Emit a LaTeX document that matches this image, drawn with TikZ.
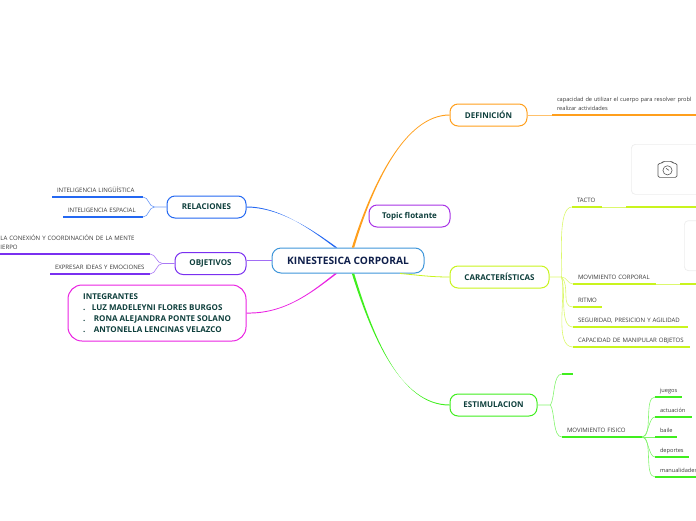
\documentclass[tikz,border=0pt]{standalone}
\usepackage{xcolor}
\usepackage{fontspec}
\setmainfont{Open Sans}
\usepackage{tikz}
\usetikzlibrary{positioning}

\definecolor{rootc}{HTML}{3F96DA}
\definecolor{relc}{HTML}{2468F2}
\definecolor{objc}{HTML}{7A30F0}
\definecolor{intc}{HTML}{EA22E2}
\definecolor{defc}{HTML}{FF9F1C}
\definecolor{flotc}{HTML}{A833E6}
\definecolor{carc}{HTML}{C9F41E}
\definecolor{estc}{HTML}{40EE1E}
\definecolor{inkc}{HTML}{0E3F3C}
\definecolor{rootink}{HTML}{0F1F4B}
\definecolor{leafink}{HTML}{3A3A3A}

% tapered branch out of the central topic
\newcommand{\branch}[5]{\fill[#1] ([xshift=-1.2pt]#2) .. controls ([xshift=-.7pt]#3) and ([yshift=.4pt]#4) .. ([yshift=.5pt]#5) -- ([yshift=-.5pt]#5) .. controls ([yshift=-.4pt]#4) and ([xshift=.7pt]#3) .. ([xshift=1.2pt]#2) -- cycle;}

\begin{document}
\begin{tikzpicture}[
  x=1pt, y=-1pt,
  topic/.style={draw=#1, line width=1pt, fill=white, rounded corners=8pt, minimum height=22pt, inner sep=0pt,
    font=\fontsize{8}{9}\selectfont\bfseries, text=inkc},
  leaf/.style={inner xsep=5pt, inner ysep=3.5pt, outer sep=0pt, text height=5pt, text depth=1.5pt, align=left,
    font=\fontsize{6.05}{8.6}\selectfont, text=leafink,
    append after command={(\tikzlastnode.south west) edge[draw=#1, line width=1.2pt] (\tikzlastnode.south east)}},
  lowleaf/.style={font=\fontsize{5.65}{8.6}\selectfont},
  link/.style={draw=#1!65, line width=.6pt},
  imgbox/.style={draw=black!7, line width=.7pt, fill=white, rounded corners=4pt, minimum height=50pt, minimum width=90pt}
]
\useasboundingbox (0,0) rectangle (696,520);
\clip (0,0) rectangle (696,520);

\node[topic=rootc, minimum width=152pt, minimum height=25pt, rounded corners=9pt, font=\fontsize{10.2}{11}\selectfont\bfseries, text=rootink] (root) at (348,260.5) {KINESTESICA CORPORAL};

% right side
\node[topic=defc, minimum width=77pt, right=25pt of root, yshift=145.5pt] (def) {DEFINICIÓN};
\node[topic=carc, minimum width=99pt, right=25pt of root, yshift=-16.5pt] (car) {CARACTERÍSTICAS};
\node[topic=estc, minimum width=87pt, right=25pt of root, yshift=-144.5pt] (est) {ESTIMULACION};

% left side
\node[topic=relc, minimum width=79pt, left=25pt of root, yshift=53.5pt] (rel) {RELACIONES};
\node[topic=objc, minimum width=71pt, left=25pt of root, yshift=-3pt] (obj) {OBJETIVOS};
\node[topic=intc, minimum width=178pt, minimum height=56pt, rounded corners=14pt, left=25pt of root, yshift=-52.5pt, align=left,
      font=\fontsize{8}{11}\selectfont\bfseries] (int) {INTEGRANTES\\.\hspace{6.5pt}LUZ MADELEYNI FLORES BURGOS\\.\hspace{8.5pt}RONA ALEJANDRA PONTE SOLANO\\.\hspace{8.5pt}ANTONELLA LENCINAS VELAZCO};

% branches
\coordinate (defroot) at ([xshift=5pt]root.north);
\coordinate (relroot) at ([xshift=-12pt]root.north);
\coordinate (introot) at ([xshift=-12pt]root.south);
\coordinate (estroot) at ([xshift=5pt]root.south);
\coordinate (carroot) at ([xshift=52pt]root.south);
\branch{defc}{defroot}{372,185}{405,115}{def.west}
\branch{relc}{relroot}{312,230}{280,207}{rel.east}
\branch{intc}{introot}{312,292}{285,314}{int.east}
\branch{estc}{estroot}{372,335}{400,405}{est.west}
\draw[objc!70, line width=1pt] (root.west) -- (root.west -| obj.east);
\draw[carc, line width=.8pt] (carroot) to[out=-5, in=180] (car.west);
\node[topic=flotc, minimum width=81pt, right=-56pt of root, yshift=44.5pt] (flot) {Topic flotante};

% definicion
\node[leaf=defc, lowleaf, text width=134pt, text depth=10.1pt, above right=0pt and 24.5pt of def.east] (capac) {\mbox{capacidad de utilizar el cuerpo para resolver probl}\\realizar actividades};
\draw[link=defc] (def.east) -- (capac.south west);
\node[imgbox, below right=29pt and 103.5pt of def.east] (imga) {};
\node[imgbox, above right=6pt and 134.5pt of car.east] (imgb) {};
\begin{scope}[shift={(imga.west)}, draw=black!65, line width=.6pt]
  \draw[rounded corners=1.5pt] (27,-6) -- (31,-6) -- (32,-8) -- (41,-8) -- (42,-6) -- (46,-6) -- (46,8) -- (27,8) -- cycle;
  \draw (36.5,1) circle (4.6pt);
  \draw (35,-1) -- (38,1);
\end{scope}

% caracteristicas
\coordinate[right=12pt of car.east] (cartrunk);
\node[leaf=carc, text width=114pt, above right=70pt and 22.5pt of car.east] (tacto) {TACTO};
\node[leaf=carc, text width=113pt, above right=-7pt and 23.5pt of car.east] (movcorp) {MOVIMIENTO CORPORAL};
\node[leaf=carc, text width=19pt, above right=-30pt and 23.5pt of car.east] (ritmo) {RITMO};
\node[leaf=carc, text width=105pt, above right=-50pt and 23.5pt of car.east] (segur) {SEGURIDAD, PRESICION Y AGILIDAD};
\node[leaf=carc, text width=107pt, above right=-70pt and 23.5pt of car.east] (capman) {CAPACIDAD DE MANIPULAR OBJETOS};
\draw[link=carc] (car.east) -- (cartrunk) to[out=85, in=180, looseness=.55] (tacto.south west);
\draw[link=carc] (cartrunk) to[out=0, in=180] (movcorp.south west);
\draw[link=carc] (cartrunk) to[out=-45, in=180] (ritmo.south west);
\draw[link=carc] (cartrunk) to[out=-70, in=180, looseness=.7] (segur.south west);
\draw[link=carc] (cartrunk) to[out=-75, in=180, looseness=.7] (capman.south west);
\draw[white, line width=1.6pt] ([xshift=30pt]tacto.south west) -- ([xshift=54pt]tacto.south west);
\draw[link=carc] ([xshift=30pt]tacto.south west) -- ([xshift=54pt]tacto.south west);
\draw[white, line width=1.6pt] ([xshift=83pt]movcorp.south west) -- ([xshift=107pt]movcorp.south west);
\draw[link=carc] ([xshift=83pt]movcorp.south west) -- ([xshift=107pt]movcorp.south west);

% estimulacion
\coordinate[right=13pt of est.east] (esttrunk);
\node[leaf=estc, text width=1pt, above right=31pt and 24.5pt of est.east] (estnada) {};
\node[leaf=estc, text width=70pt, above right=-32pt and 24.5pt of est.east] (movfis) {MOVIMIENTO FISICO};
\draw[link=estc] (est.east) -- (esttrunk) to[out=60, in=180, looseness=.7] (estnada.south west);
\draw[link=estc] (esttrunk) to[out=-60, in=180, looseness=.7] (movfis.south west);
\node[leaf=estc, lowleaf, text width=17pt, above right=40pt and 13pt of movfis.south east] (juegos) {juegos};
\node[leaf=estc, lowleaf, text width=27pt, above right=20pt and 13pt of movfis.south east] (actua) {actuación};
\node[leaf=estc, lowleaf, text width=12pt, above right=0pt and 13pt of movfis.south east] (baile) {baile};
\node[leaf=estc, lowleaf, text width=24pt, above right=-20pt and 13pt of movfis.south east] (depor) {deportes};
\node[leaf=estc, lowleaf, text width=32pt, above right=-40pt and 13pt of movfis.south east] (manual) {manualidades};
\draw[link=estc] (movfis.south east) to[out=0, in=180, looseness=.7] (juegos.south west);
\draw[link=estc] (movfis.south east) to[out=0, in=180, looseness=.7] (actua.south west);
\draw[link=estc] (movfis.south east) -- (baile.south west);
\draw[link=estc] (movfis.south east) to[out=0, in=180, looseness=.7] (depor.south west);
\draw[link=estc] (movfis.south east) to[out=0, in=180, looseness=.7] (manual.south west);

% relaciones
\coordinate[left=12pt of rel.west] (reltrunk);
\node[leaf=relc, text width=81pt, above left=10pt and 23.5pt of rel.west] (linguis) {INTELIGENCIA LINGÜÍSTICA};
\node[leaf=relc, text width=70pt, above left=-10pt and 23.5pt of rel.west] (espac) {INTELIGENCIA ESPACIAL};
\draw[link=relc] (rel.west) -- (reltrunk) to[out=180, in=0] (linguis.south east);
\draw[link=relc] (reltrunk) to[out=180, in=0] (espac.south east);

% objetivos
\coordinate[left=12pt of obj.west] (objtrunk);
\node[leaf=objc, text width=140pt, text depth=10.1pt, above left=9.5pt and 24.5pt of obj.west] (conex) {\hspace*{-4.5pt}LA CONEXIÓN Y COORDINACIÓN DE LA MENTE\\\hspace*{-4.5pt}IERPO};
\node[leaf=objc, text width=90pt, above left=-10.5pt and 24.5pt of obj.west] (expres) {EXPRESAR IDEAS Y EMOCIONES};
\draw[link=objc] (obj.west) -- (objtrunk) to[out=180, in=0] (conex.south east);
\draw[link=objc] (objtrunk) to[out=180, in=0] (expres.south east);
\end{tikzpicture}
\end{document}
